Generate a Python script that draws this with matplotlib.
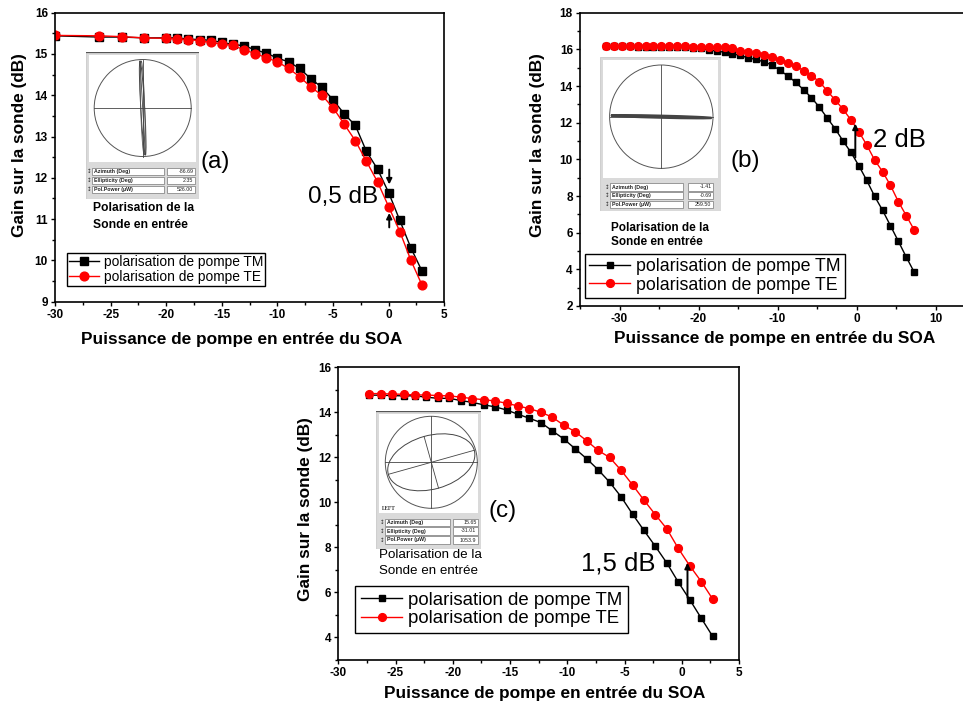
import numpy as np
import matplotlib
matplotlib.use('Agg')
import matplotlib.pyplot as plt
from matplotlib.patches import Circle, Ellipse, Rectangle
from matplotlib.ticker import MultipleLocator

plt.rcParams['font.family'] = ['Liberation Sans', 'DejaVu Sans']
plt.rcParams['axes.unicode_minus'] = False

W, H = 963, 702

# ---- data (a)
pump_a = [-30, -26, -24, -22, -20, -19, -18, -17, -16, -15, -14, -13, -12, -11,
          -10, -9, -8, -7, -6, -5, -4, -3, -2, -1, 0, 1, 2, 3]
tm_a = [15.44, 15.41, 15.41, 15.39, 15.39, 15.39, 15.36, 15.35, 15.33, 15.28,
        15.23, 15.20, 15.10, 15.02, 14.90, 14.81, 14.65, 14.40, 14.19, 13.89,
        13.55, 13.27, 12.64, 12.21, 11.64, 10.97, 10.30, 9.74]
te_a = [15.45, 15.44, 15.42, 15.39, 15.38, 15.36, 15.35, 15.32, 15.28, 15.24,
        15.21, 15.10, 15.01, 14.91, 14.81, 14.65, 14.45, 14.20, 14.00, 13.70,
        13.30, 12.90, 12.40, 11.90, 11.30, 10.70, 10.00, 9.40]

# ---- data (b)
pump_b = [-31.7, -30.7, -29.7, -28.7, -27.7, -26.7, -25.7, -24.7, -23.7, -22.7,
          -21.7, -20.7, -19.7, -18.7, -17.7, -16.7, -15.7, -14.7, -13.7, -12.7,
          -11.7, -10.7, -9.7, -8.7, -7.7, -6.7, -5.7, -4.7, -3.7, -2.7,
          -1.7, -0.7, 0.3, 1.3, 2.3, 3.3, 4.3, 5.3, 6.3, 7.3]
tm_b = [16.16, 16.16, 16.16, 16.16, 16.15, 16.15, 16.15, 16.14, 16.14, 16.13,
        16.12, 16.10, 16.05, 15.96, 15.91, 15.84, 15.75, 15.67, 15.53, 15.45,
        15.31, 15.15, 14.85, 14.56, 14.20, 13.80, 13.36, 12.85, 12.25, 11.67,
        11.00, 10.38, 9.65, 8.85, 7.98, 7.22, 6.38, 5.53, 4.67, 3.85]
te_b = [16.17, 16.17, 16.17, 16.17, 16.17, 16.17, 16.17, 16.17, 16.17, 16.17,
        16.16, 16.15, 16.14, 16.13, 16.12, 16.11, 16.06, 15.93, 15.86, 15.79,
        15.69, 15.57, 15.42, 15.24, 15.09, 14.84, 14.56, 14.24, 13.73, 13.24,
        12.73, 12.15, 11.51, 10.78, 9.96, 9.33, 8.58, 7.69, 6.93, 6.15]

# ---- data (c)
pump_c = [-27.3, -26.3, -25.3, -24.3, -23.3, -22.3, -21.3, -20.3, -19.3, -18.3,
          -17.3, -16.3, -15.3, -14.3, -13.3, -12.3, -11.3, -10.3, -9.3, -8.3,
          -7.3, -6.3, -5.3, -4.3, -3.3, -2.3, -1.3, -0.3, 0.7, 1.7, 2.7]
tm_c = [14.76, 14.76, 14.74, 14.73, 14.73, 14.67, 14.62, 14.62, 14.52, 14.44,
        14.33, 14.24, 14.10, 13.91, 13.73, 13.54, 13.17, 12.81, 12.37, 11.93,
        11.44, 10.89, 10.24, 9.47, 8.74, 8.03, 7.29, 6.44, 5.66, 4.84, 4.03]
te_c = [14.83, 14.83, 14.81, 14.80, 14.77, 14.77, 14.74, 14.73, 14.67, 14.61,
        14.56, 14.50, 14.40, 14.28, 14.16, 14.00, 13.78, 13.42, 13.13, 12.73,
        12.30, 11.99, 11.42, 10.77, 10.09, 9.44, 8.81, 7.94, 7.17, 6.47, 5.69]

# polarimeter readings shown in the insets
row_names = ['Azimuth (Deg)', 'Ellipticity (Deg)', 'Pol.Power (\u00b5W)']
vals_a = ['-86.69', '2.35', '526.00']
vals_b = ['-1.41', '-0.69', '259.50']
vals_c = ['15.65', '-31.01', '1053.9']
azim = {'a': -86.69, 'b': -1.41, 'c': 15.65}
ellip = {'a': 2.35, 'b': -0.69, 'c': -31.01}

lab_tm = 'polarisation de pompe TM'
lab_te = 'polarisation de pompe TE'
xlab = 'Puissance de pompe en entr\u00e9e du SOA'
ylab = 'Gain sur la sonde (dB)'


def px_box(l, t, r, b):
    return [l / W, 1 - b / H, (r - l) / W, (b - t) / H]


fig = plt.figure(figsize=(W / 100, H / 100), dpi=100)


def make_axes(box, xlim, ylim, xmaj, xmin, ymaj, ymin, xl_pos, yl_pos):
    ax = fig.add_axes(px_box(*box))
    ax.set_xlim(*xlim)
    ax.set_ylim(*ylim)
    ax.xaxis.set_major_locator(MultipleLocator(xmaj))
    ax.xaxis.set_minor_locator(MultipleLocator(xmin))
    ax.yaxis.set_major_locator(MultipleLocator(ymaj))
    ax.yaxis.set_minor_locator(MultipleLocator(ymin))
    ax.tick_params(which='both', direction='out', top=False, right=False,
                   width=1.0, labelsize=8.5, pad=2)
    ax.tick_params(which='major', length=3.2)
    ax.tick_params(which='minor', length=2.2)
    for s in ax.spines.values():
        s.set_linewidth(1.2)
    ax.set_xlabel(xlab, fontsize=12.4, fontweight='bold')
    ax.set_ylabel(ylab, fontsize=12.4, fontweight='bold')
    ax.xaxis.set_label_coords(*xl_pos)
    ax.yaxis.set_label_coords(*yl_pos)
    return ax


def bold_ticks(ax):
    plt.setp(ax.get_xticklabels(), fontweight='bold')
    plt.setp(ax.get_yticklabels(), fontweight='bold')


def curves(ax, x, tm, te, ms_s, ms_o, leg_anchor, leg_fs, hl, bpad):
    ax.plot(x, tm, '-s', color='black', lw=1.0, ms=ms_s, label=lab_tm)
    ax.plot(x, te, '-o', color='#ff0000', lw=1.0, ms=ms_o, label=lab_te)
    leg = ax.legend(loc='lower left', bbox_to_anchor=leg_anchor, borderaxespad=0,
                    fancybox=False, framealpha=1, edgecolor='black', fontsize=leg_fs,
                    handlelength=hl, handletextpad=0.3, borderpad=bpad,
                    labelspacing=0.08)
    leg.get_frame().set_linewidth(1.0)


def polarimeter(key, box, centre, rad, rows_y, lab_x, val_x, values,
                top_line=False, tag=None):
    l, t, r, b = box
    ins = fig.add_axes(px_box(l, t, r, b))
    ins.set_xlim(l, r)
    ins.set_ylim(H - b, H - t)
    ins.axis('off')
    ins.add_patch(Rectangle((l, H - b), r - l, b - t, fc='#dadada', ec='#cfcfcf', lw=0.8))
    wt = rows_y[0] - 9
    ins.add_patch(Rectangle((l + 3, H - wt), r - l - 6, wt - t - 3, fc='white', ec='none'))
    cx, cy = centre[0], H - centre[1]
    ins.add_patch(Circle((cx, cy), rad, fill=False, ec='#555555', lw=0.7))
    ins.plot([cx - rad, cx + rad], [cy, cy], color='#444444', lw=0.6)
    ins.plot([cx, cx], [cy - rad, cy + rad], color='#444444', lw=0.6)
    a = rad * 0.97
    bm = max(a * np.tan(np.radians(abs(ellip[key]))), 1.0)
    ins.add_patch(Ellipse((cx, cy), 2 * a, 2 * bm, angle=azim[key], fill=False,
                          ec='#444444', lw=0.7 if key != 'b' else 1.6))
    ang = np.radians(azim[key])
    ins.plot([cx - a * np.cos(ang), cx + a * np.cos(ang)],
             [cy - a * np.sin(ang), cy + a * np.sin(ang)], color='#444444', lw=0.6)
    if key == 'c':
        ins.plot([cx + bm * np.sin(ang), cx - bm * np.sin(ang)],
                 [cy - bm * np.cos(ang), cy + bm * np.cos(ang)], color='#444444', lw=0.6)
    if key == 'a':
        ins.add_patch(Ellipse((cx, cy), 2 * a, 4, angle=azim[key] - 1.5, fill=False,
                              ec='#555555', lw=0.6))
    for yy, name, val in zip(rows_y, row_names, values):
        ins.add_patch(Rectangle((lab_x[0], H - yy - 3.6), lab_x[1] - lab_x[0], 7.2,
                                fc='white', ec='#777777', lw=0.5))
        ins.add_patch(Rectangle((val_x[0], H - yy - 3.6), val_x[1] - val_x[0], 7.2,
                                fc='white', ec='#777777', lw=0.5))
        ins.text(lab_x[0] - 2.5, H - yy, '\u2195', fontsize=4, ha='center', va='center',
                 family='DejaVu Sans', color='#333333')
        ins.text(lab_x[0] + 2, H - yy, name, fontsize=3.8, ha='left', va='center',
                 fontweight='bold', color='#222222')
        ins.text(val_x[1] - 1.5, H - yy, val, fontsize=3.8, ha='right', va='center',
                 color='#222222')
    if top_line:
        ins.plot([l, r], [H - t, H - t], color='#555555', lw=1.6)
    if tag:
        ins.text(l + 6, H - (rows_y[0] - 14), tag, fontsize=4, family='Liberation Serif',
                 fontweight='bold', ha='left', va='center', color='#333333')


def caption(x, y1, y2, fs, weight):
    fig.text(x / W, 1 - y1 / H, 'Polarisation de la', fontsize=fs, fontweight=weight,
             ha='left', va='center')
    fig.text(x / W, 1 - y2 / H, 'Sonde en entr\u00e9e', fontsize=fs, fontweight=weight,
             ha='left', va='center')


arrow = dict(arrowstyle='-|>', color='black', lw=1.4, mutation_scale=8,
             shrinkA=0, shrinkB=0)

# ---------------- panel (a)
ax_a = make_axes((55, 12.7, 444.3, 301.7), (-30, 5), (9, 16), 5, 2.5, 1, 0.5,
                 (0.479, -0.105), (-0.073, 0.542))
curves(ax_a, pump_a, tm_a, te_a, 5.6, 6.3, (0.031, 0.054), 9.9, 2.2, 0.15)
ax_a.annotate('', xy=(0.05, 11.84), xytext=(0.05, 12.2), arrowprops=arrow)
ax_a.annotate('', xy=(0.05, 11.15), xytext=(0.05, 10.8), arrowprops=arrow)
ax_a.text(-4.1, 11.54, '0,5 dB', fontsize=17.5, ha='center', va='center')
ax_a.text(-15.6, 12.39, '(a)', fontsize=17.5, ha='center', va='center')
bold_ticks(ax_a)

# ---------------- panel (b)
ax_b = make_axes((580, 12.7, 975, 306), (-35, 15), (2, 18), 10, 5, 2, 1,
                 (0.492, -0.086), (-0.089, 0.549))
curves(ax_b, pump_b, tm_b, te_b, 4.5, 5.6, (0.0127, 0.027), 12.8, 2.3, 0.25)
ax_b.annotate('', xy=(-0.15, 11.95), xytext=(-0.15, 10.1), arrowprops=arrow)
ax_b.text(5.4, 11.05, '2 dB', fontsize=18.5, ha='center', va='center')
ax_b.text(-14.1, 9.91, '(b)', fontsize=17.5, ha='center', va='center')
bold_ticks(ax_b)

# ---------------- panel (c)
ax_c = make_axes((338.3, 367.3, 739, 659.5), (-30, 5), (3, 16), 5, 2.5, 2, 1,
                 (0.515, -0.091), (-0.062, 0.516))
curves(ax_c, pump_c, tm_c, te_c, 5.0, 5.6, (0.042, 0.09), 13.4, 2.2, 0.32)
ax_c.annotate('', xy=(0.5, 7.3), xytext=(0.5, 5.75), arrowprops=arrow)
ax_c.text(-5.55, 7.29, '1,5 dB', fontsize=18.5, ha='center', va='center')
ax_c.text(-15.67, 9.59, '(c)', fontsize=17.5, ha='center', va='center')
bold_ticks(ax_c)

# ---------------- insets
polarimeter('a', (86, 52, 199, 199), (142.7, 108), 48.5, [171.3, 180.3, 189.7],
            (92, 164), (167, 195), vals_a, top_line=True)
caption(93, 208, 225, 8.7, 'bold')
polarimeter('b', (600, 57, 721, 211), (661.3, 116.7), 51.7, [187, 195.5, 204.2],
            (609.7, 683), (688, 713), vals_b)
caption(610.7, 228, 242.3, 8.5, 'bold')
polarimeter('c', (376.3, 410.7, 481.3, 549), (431.3, 462.3), 46, [522.3, 531, 540],
            (384.7, 449.7), (453, 478), vals_c, top_line=True, tag='LEFT')
caption(379, 555, 571, 9.6, 'normal')

fig.savefig('out.png', dpi=100)
